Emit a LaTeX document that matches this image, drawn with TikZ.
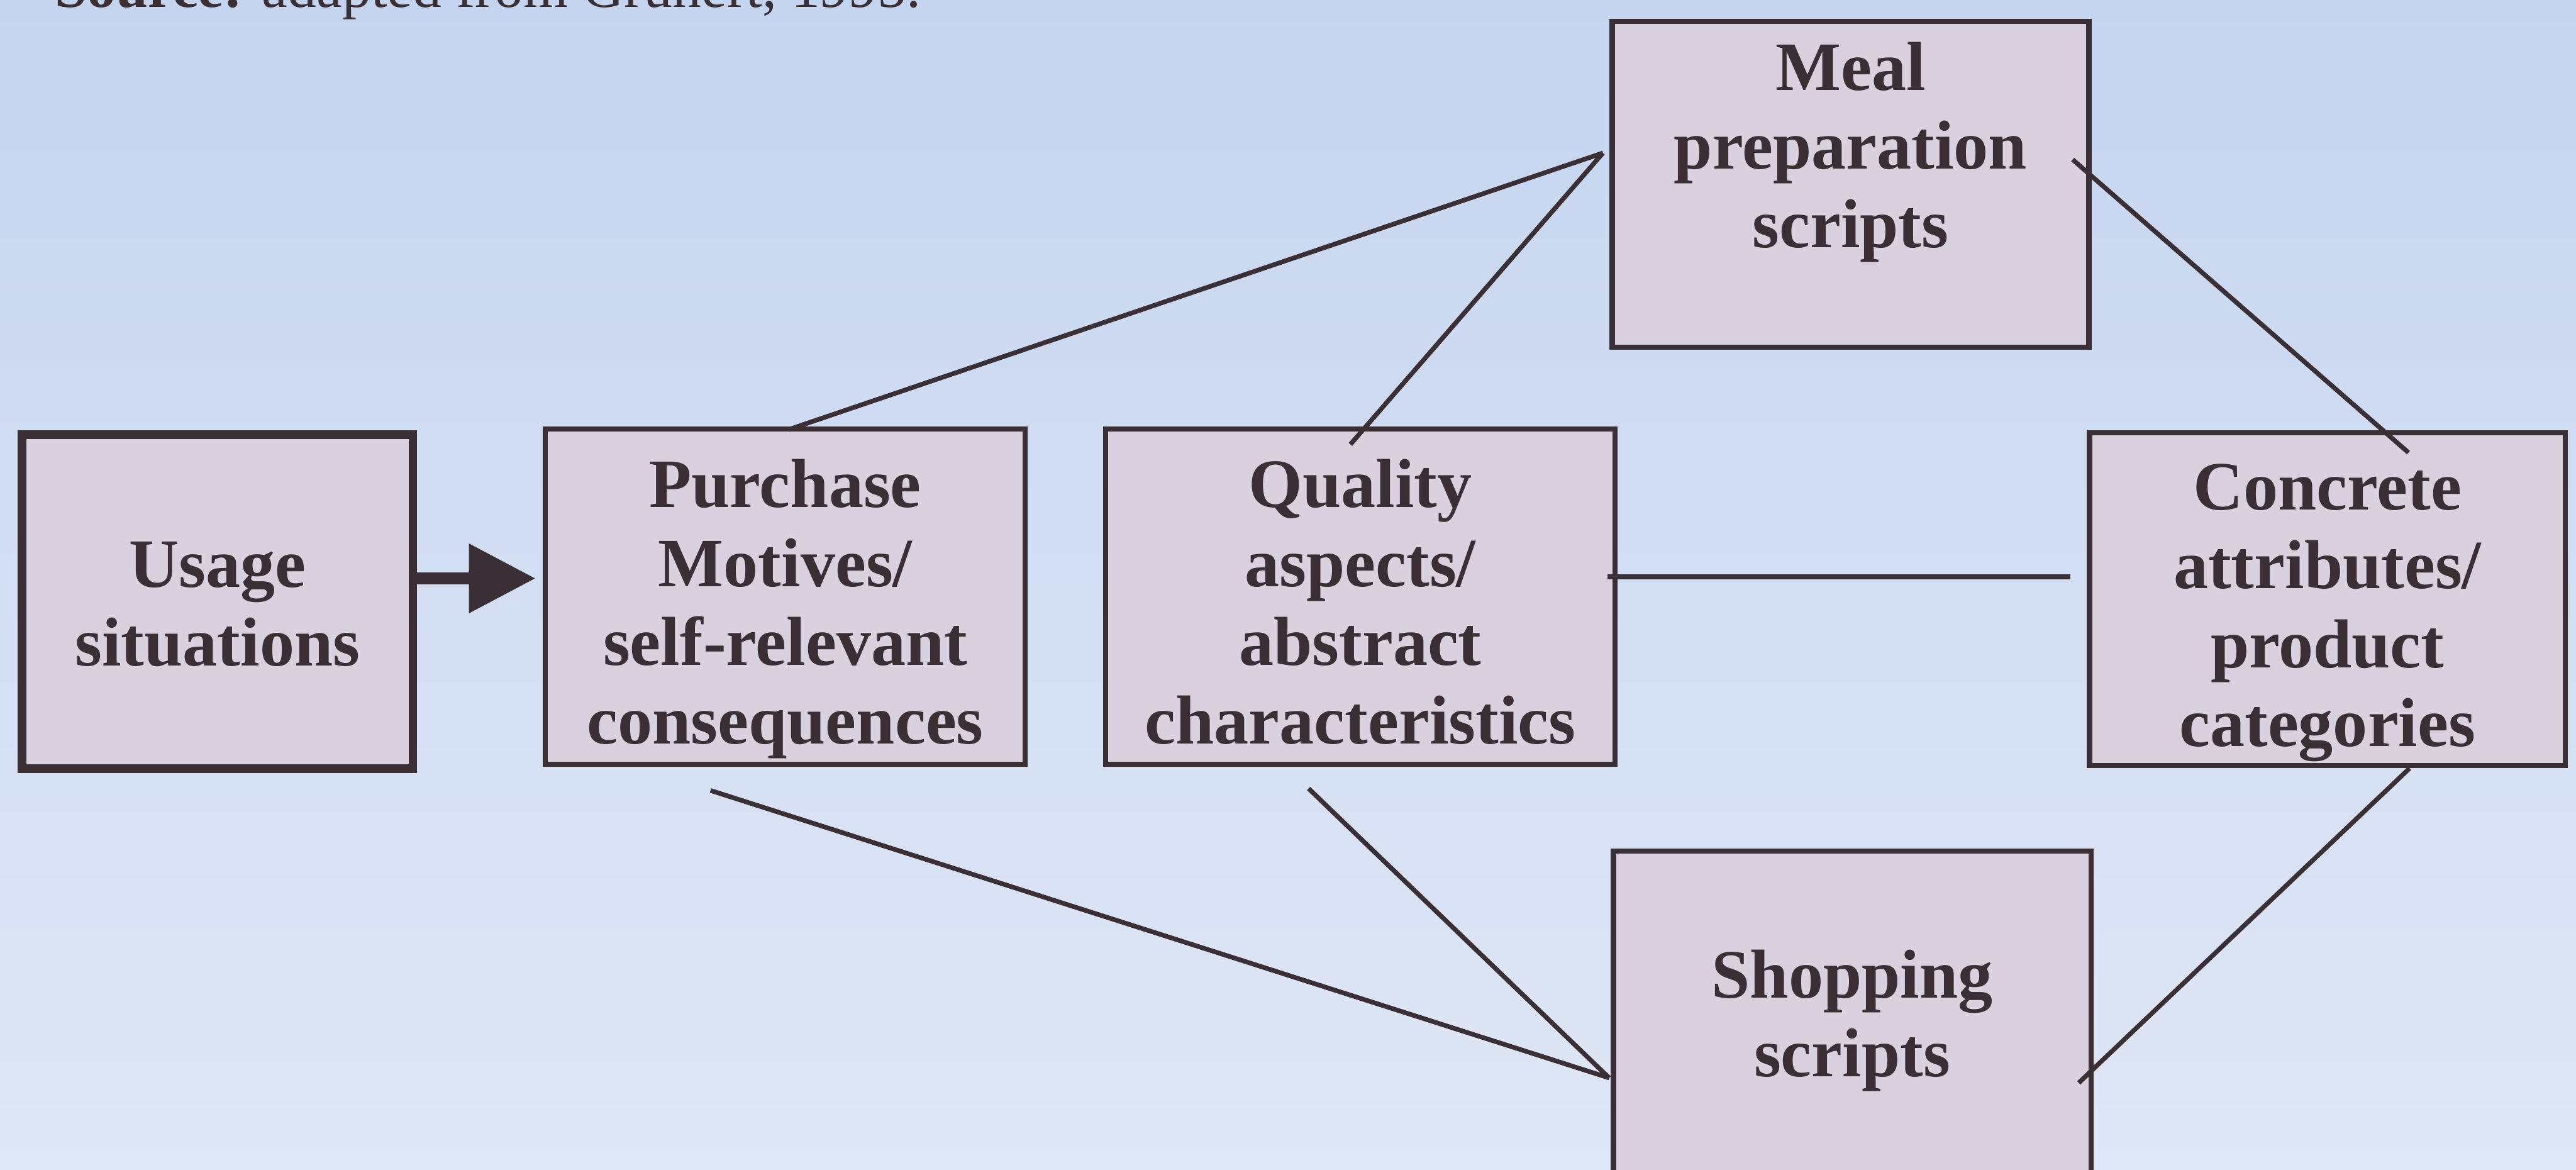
\documentclass[tikz,border=0pt]{standalone}
\usepackage{fontspec}
\setmainfont{Liberation Serif}
\usetikzlibrary{calc,arrows.meta}

\definecolor{ink}{RGB}{58,47,53}
\definecolor{boxfill}{RGB}{218,209,223}
\definecolor{skytop}{RGB}{197,213,240}
\definecolor{skybot}{RGB}{224,231,246}

\begin{document}
\begin{tikzpicture}[x=0.02cm, y=-0.02cm,
  box/.style={draw=ink, fill=boxfill, line width=1.8pt, inner sep=0pt},
  firstbox/.style={box, line width=3pt},
  boxtext/.style={inner sep=0pt, anchor=north, align=center, text=ink,
    font=\fontsize{24pt}{27.3pt}\selectfont\bfseries},
  link/.style={draw=ink, line width=1.6pt},
  flow/.style={draw=ink, line width=4pt, -{Triangle[length=0.81cm, width=0.81cm]}}]

% page and background
\clip (0,0) rectangle (1568,711.7);
\useasboundingbox (0,0) rectangle (1568,711.7);
\shade[top color=skytop, bottom color=skybot] (0,0) rectangle (1568,711.7);

% caption line at the top
\node[anchor=base west, inner sep=0pt, text=ink,
      font=\fontsize{20pt}{24pt}\selectfont] (src) at (33,4.5)
  {\textbf{Source:} adapted from Grunert, 1995.};

% boxes
\node[firstbox, minimum width=4.756cm, minimum height=4.07cm] (usage)    at (132.4,366.2) {};
\node[box, minimum width=5.84cm,  minimum height=4.08cm]     (purchase) at (478,363)     {};
\node[box, minimum width=6.20cm,  minimum height=4.08cm]     (quality)  at (828,363)     {};
\node[box, minimum width=5.794cm, minimum height=4.052cm]    (concrete) at (1416.7,364.7) {};
\node[box, minimum width=5.806cm, minimum height=3.968cm]    (meal)     at (1126.4,112.1) {};
\node[box, minimum width=5.814cm, minimum height=3.968cm]    (shopping) at (1127.4,617)   {};

% box texts
\node[boxtext] (usage-t)    at (132.4,323.4)  {\strut Usage\\situations};
\node[boxtext] (purchase-t) at (478,275)      {\strut Purchase\\Motives/\\self-relevant\\consequences};
\node[boxtext] (quality-t)  at (828,275)      {\strut Quality\\aspects/\\abstract\\characteristics};
\node[boxtext] (concrete-t) at (1416.7,276.4) {\strut Concrete\\attributes/\\product\\categories};
\node[boxtext] (meal-t)     at (1126.4,20.9)  {\strut Meal\\preparation\\scripts};
\node[boxtext] (shopping-t) at (1127.4,573.4) {\strut Shopping\\scripts};

% connector end points
\coordinate (m1) at ($(meal.west)+(-4,-19)$);
\coordinate (m2) at ($(meal.east)+(-11.5,-15)$);
\coordinate (p1) at ($(purchase.north)+(2,2)$);
\coordinate (p2) at ($(purchase.south)+(-45.5,14.5)$);
\coordinate (q1) at ($(quality.north)+(-6,11)$);
\coordinate (q2) at ($(quality.east)+(-6,-12)$);
\coordinate (q3) at ($(quality.south)+(-31.5,13.3)$);
\coordinate (c1) at ($(concrete.north)+(49.3,13.6)$);
\coordinate (c2) at ($(concrete.west)+(-10,-13.7)$);
\coordinate (c3) at ($(concrete.south)+(50,0)$);
\coordinate (s1) at ($(shopping.west)+(-1,39)$);
\coordinate (s2) at ($(shopping.east)+(-9,42)$);

% connectors
\draw[link] (p1) -- (m1);
\draw[link] (q1) -- (m1);
\draw[link] (m2) -- (c1);
\draw[link] (q2) -- (c2);
\draw[link] (p2) -- (s1);
\draw[link] (q3) -- (s1);
\draw[link] (c3) -- (s2);

% arrow from usage situations to purchase motives
\coordinate (a0) at ($(usage.east)+(0,-14.2)$);
\draw[flow, shorten >=0.09cm] (a0) -- (a0 -| purchase.west);

\end{tikzpicture}
\end{document}
